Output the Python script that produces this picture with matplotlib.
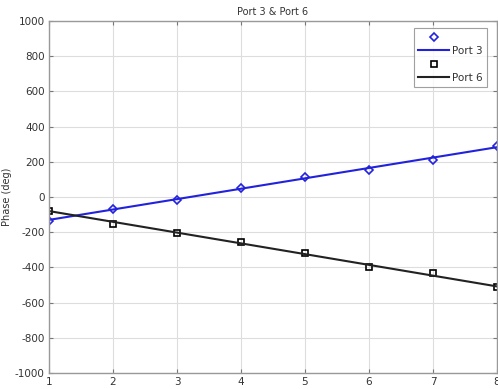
import matplotlib
matplotlib.use("Agg")
import matplotlib.pyplot as plt

plt.rcParams["axes.unicode_minus"] = False

# Data
ports = [1, 2, 3, 4, 5, 6, 7, 8]
port3_meas = [-136, -68, -17, 49, 112, 153, 210, 290]
port6_meas = [-78, -152, -203, -254, -316, -400, -434, -513]
fit_x = [1, 8]
port3_fit = [-130, 283]
port6_fit = [-80, -508]
xticks = [1, 2, 3, 4, 5, 6, 7, 8]
yticks = [-1000, -800, -600, -400, -200, 0, 200, 400, 600, 800, 1000]

W, H = 498, 389
fig = plt.figure(figsize=(W / 100, H / 100), dpi=100)
ax = fig.add_axes([49 / W, 1 - 373 / H, (497 - 49) / W, (373 - 21) / H])

blue = "#2222dd"
ax.plot(ports, port3_meas, linestyle="none", marker="D", markersize=4,
        markerfacecolor="none", markeredgecolor=blue, markeredgewidth=1.2, label=" ")
ax.plot(fit_x, port3_fit, color=blue, linewidth=1.5, label="Port 3")
ax.plot(ports, port6_meas, linestyle="none", marker="s", markersize=4,
        markerfacecolor="none", markeredgecolor="black", markeredgewidth=1.2, label="  ")
ax.plot(fit_x, port6_fit, color="#222222", linewidth=1.5, label="Port 6")

ax.set_xlim(1, 8)
ax.set_ylim(-1000, 1000)
ax.set_xticks(xticks)
ax.set_yticks(yticks)
ax.grid(True, color="#dddddd", linestyle="-", linewidth=0.8)
ax.tick_params(direction="in", labelsize=7.5, length=3, color="#777777", labelcolor="#333333",
               top=True, right=True, pad=3)
for s in ax.spines.values():
    s.set_color("#999999")
    s.set_linewidth(1.0)

ax.set_title("Port 3 & Port 6", fontsize=7, color="#333333", pad=4)
ax.set_ylabel("Phase (deg)", fontsize=7, color="#333333")
ax.yaxis.set_label_coords(-0.083, 0.5)

leg = ax.legend(loc="upper right", bbox_to_anchor=(0.978, 0.98), fontsize=7.5, frameon=True,
                fancybox=False, edgecolor="#888888", handlelength=3.0, borderaxespad=0.0,
                labelspacing=0.35, handletextpad=0.3, borderpad=0.4)
leg.get_frame().set_linewidth(0.8)
for t in leg.get_texts():
    t.set_color("#333333")

fig.savefig("out.png", dpi=100)
